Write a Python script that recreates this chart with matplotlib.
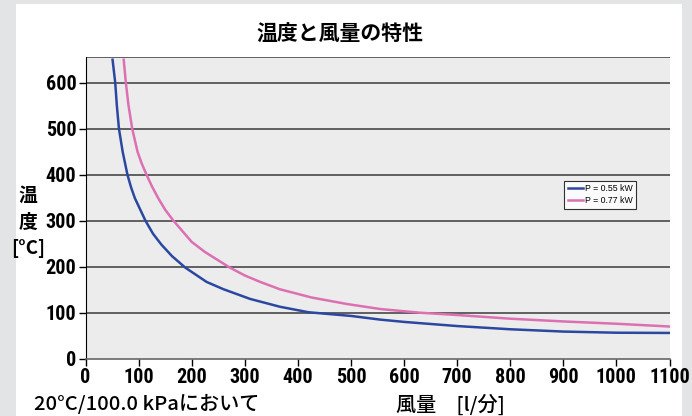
import matplotlib.pyplot as plt
from matplotlib.patches import Rectangle

plt.rcParams['font.family'] = ['Roboto Condensed', 'Liberation Sans Narrow', 'Roboto',
                               'Noto Sans CJK JP', 'DejaVu Sans']
JP = ['Noto Sans CJK JP', 'DejaVu Sans']

# air flow [l/min] vs temperature [deg C]
q_055 = [51, 56, 59, 63, 70, 79, 86, 93, 113, 127, 143, 163, 188, 228, 260, 291, 310,
         366, 420, 500, 555, 600, 700, 743, 800, 900, 1000, 1100]
t_055 = [650, 600, 551, 500, 450, 400, 372, 349, 300, 272, 248, 223, 198, 167, 151, 138,
         130, 113, 101, 93, 85, 80, 71, 68, 64, 59, 56.5, 56]
q_077 = [72, 76, 81, 88, 98, 106, 115, 125, 137, 150, 165, 200, 225, 272, 300, 329,
         366, 426, 492, 555, 630, 700, 800, 900, 1000, 1100]
t_077 = [650, 600, 551, 500, 450, 424, 400, 375, 349, 324, 301, 254, 232, 198, 181, 167,
         151, 133, 119, 108, 100, 95, 87, 81, 76, 70]

labels = ['P = 0.55 kW', 'P = 0.77 kW']
colors = ['#2b48a0', '#dc70b2']
x_ticks = list(range(0, 1101, 100))
y_ticks = list(range(0, 601, 100))

fig = plt.figure(figsize=(6.92, 4.16), dpi=100)
fig.patch.set_facecolor('#e3e4e6')
panel = Rectangle((16 / 692, 0), (682 - 16) / 692, 1 - 4 / 416,
                  transform=fig.transFigure, facecolor='white',
                  edgecolor='none', zorder=-10)
fig.add_artist(panel)

ax = fig.add_axes([85.5 / 692, 1 - 358.7 / 416, (669.5 - 85.5) / 692, (358.7 - 57) / 416])
ax.set_facecolor('#ececec')
ax.set_xlim(0, 1100)
ax.set_ylim(0, 656)

for y in y_ticks[1:] + [656]:
    ax.axhline(y, color='#555555', lw=1.3, zorder=1)

ax.plot(q_055, t_055, color=colors[0], lw=1.8, label=labels[0], zorder=3)
ax.plot(q_077, t_077, color=colors[1], lw=1.8, label=labels[1], zorder=3)

ax.set_xticks(x_ticks)
ax.set_yticks(y_ticks)
ax.tick_params(axis='both', direction='out', length=5, width=1, color='black',
               labelsize=14.5, pad=1.5)
for lab in ax.get_xticklabels() + ax.get_yticklabels():
    lab.set_fontweight('bold')
for s in ['top', 'right']:
    ax.spines[s].set_visible(False)
ax.spines['left'].set_color('black')
ax.spines['bottom'].set_color('#666666')
ax.spines['bottom'].set_linewidth(1.2)

leg = ax.legend(loc='upper left', bbox_to_anchor=(0.812, 0.605),
                frameon=True, fancybox=False, handlelength=1.8, handletextpad=0.2,
                borderpad=0.4, labelspacing=0.35,
                prop={'family': ['Liberation Sans', 'DejaVu Sans'], 'size': 6.3})
leg.get_frame().set_edgecolor('black')
leg.get_frame().set_linewidth(0.8)

fig.text(340 / 692, 1 - 34 / 416, '温度と風量の特性', ha='center', va='center',
         fontsize=15, fontweight='bold', family=JP)
fig.text(28 / 692, 1 - 222 / 416, '温\n度\n[°C]', ha='center', va='center',
         fontsize=13.5, fontweight='bold', linespacing=1.5, family=JP)
fig.text(34 / 692, 1 - 404 / 416, '20°C/100.0 kPaにおいて', ha='left', va='center',
         fontsize=14.5, fontweight='medium', family=JP)
fig.text(450 / 692, 1 - 404 / 416, '風量　[l/分]', ha='center', va='center',
         fontsize=14.5, fontweight='medium', family=JP)

fig.savefig('out.png', dpi=100, facecolor=fig.get_facecolor())
